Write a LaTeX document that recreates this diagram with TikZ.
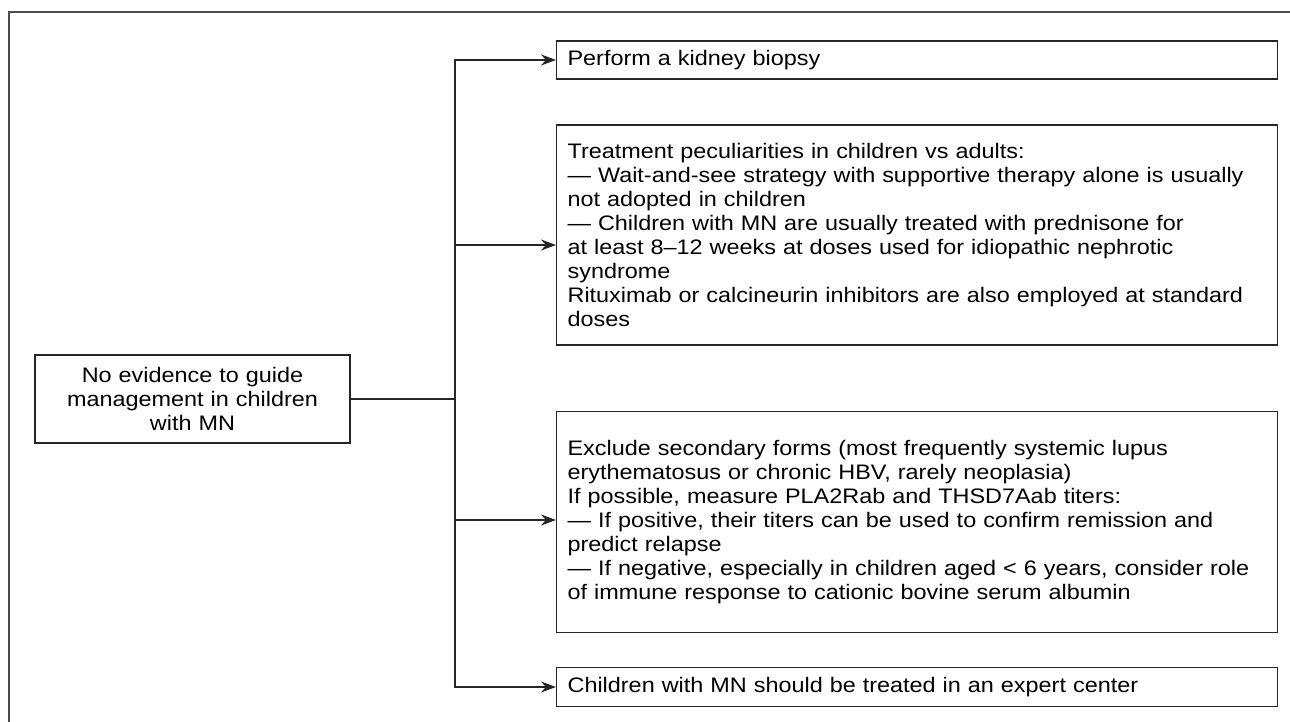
\documentclass[tikz,border=0pt]{standalone}
\usepackage{fontspec}
\setmainfont{Liberation Sans}[FakeStretch=1.115]
\usetikzlibrary{arrows.meta}

\begin{document}
\begin{tikzpicture}[x=1pt,y=-1pt,
	box/.style={draw=black!85, line width=1.2pt, rectangle, inner xsep=11pt, inner ysep=0pt, anchor=west, text width=699pt, align=left, font=\fontsize{21}{24}\selectfont},
	link/.style={draw=black!85, line width=1.2pt},
	arr/.style={link, -{Stealth[length=15pt,width=11pt]}}]
			\useasboundingbox (0,0) rectangle (1290,722);
			\draw[black!70, line width=2pt] (1290,12) -- (9,12) -- (9,722);
			\node[box, anchor=center, text width=293pt, align=center, minimum width=315pt, minimum height=88pt] (root) at (192.5,399) {No evidence to guide\\management in children\\with MN};
			\node[box, minimum height=38pt] (biopsy) at (556,60) {Perform a kidney biopsy};
			\node[box, minimum height=220pt] (treat) at (556,235) {Treatment peculiarities in children vs adults:\\
				--- Wait-and-see strategy with supportive therapy alone is usually\\not adopted in children\\
				--- Children with MN are usually treated with prednisone for\\at least 8--12 weeks at doses used for idiopathic nephrotic\\syndrome\\
				Rituximab or calcineurin inhibitors are also employed at standard\\doses};
			\node[box, minimum height=221pt] (exclude) at (556,522) {Exclude secondary forms (most frequently systemic lupus\\erythematosus or chronic HBV, rarely neoplasia)\\
				If possible, measure PLA2Rab and THSD7Aab titers:\\
				--- If positive, their titers can be used to confirm remission and\\predict relapse\\
				--- If negative, especially in children aged < 6 years, consider role\\of immune response to cationic bovine serum albumin};
			\node[box, minimum height=39pt] (expert) at (556,687) {Children with MN should be treated in an expert center};
			\coordinate (trunk) at (455,399);
			\draw[link] (root) -- (trunk);
			\draw[arr] (trunk) |- (biopsy);
			\draw[arr] (trunk) |- ([yshift=-10pt]treat.west);
			\draw[arr] (trunk) |- ([yshift=2pt]exclude.west);
			\draw[arr] (trunk) |- (expert);
			\end{tikzpicture}
\end{document}
